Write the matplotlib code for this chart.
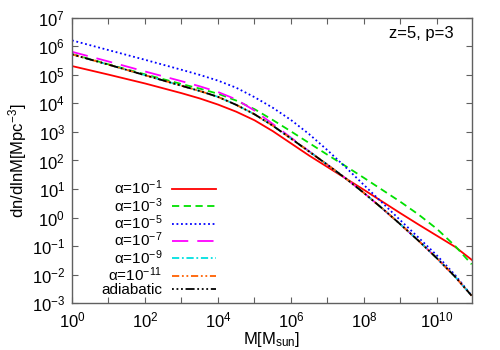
import matplotlib
matplotlib.use("Agg")
import matplotlib.pyplot as plt
import numpy as np

plt.rcParams['font.family'] = ['Liberation Sans', 'DejaVu Sans']
plt.rcParams['mathtext.default'] = 'regular'

# log10 of halo mass M [M_sun]
log_mass = [0, 1, 2, 3, 3.5, 4, 4.5, 5, 5.5, 6, 6.5, 7, 7.5, 8, 8.5, 9, 9.5, 10, 10.5, 10.95]

# log10 of dn/dlnM [Mpc^-3]
log_dn_a1 = [5.31, 5.01, 4.70, 4.36, 4.175, 3.96, 3.71, 3.41, 3.03, 2.60, 2.17, 1.77, 1.37, 0.97, 0.56, 0.15, -0.25, -0.64, -1.03, -1.48]
log_dn_a3 = [5.73, 5.37, 5.02, 4.68, 4.52, 4.34, 4.10, 3.80, 3.42, 3.02, 2.61, 2.20, 1.80, 1.39, 0.97, 0.55, 0.10, -0.40, -1.00, -1.64]
log_dn_a5 = [6.21, 5.87, 5.53, 5.18, 5.00, 4.80, 4.55, 4.22, 3.85, 3.42, 2.92, 2.36, 1.76, 1.14, 0.52, -0.10, -0.71, -1.33, -2.02, -2.74]
log_dn_a7 = [5.81, 5.47, 5.12, 4.78, 4.60, 4.40, 4.14, 3.75, 3.28, 2.80, 2.32, 1.85, 1.37, 0.86, 0.32, -0.24, -0.82, -1.43, -2.08, -2.74]
log_dn_a9 = [5.72, 5.36, 4.99, 4.62, 4.435, 4.23, 3.95, 3.62, 3.22, 2.77, 2.31, 1.85, 1.37, 0.86, 0.32, -0.24, -0.82, -1.43, -2.08, -2.74]
log_dn_a11 = [5.72, 5.36, 4.99, 4.62, 4.435, 4.23, 3.95, 3.62, 3.22, 2.77, 2.31, 1.85, 1.37, 0.86, 0.32, -0.24, -0.82, -1.43, -2.08, -2.74]
log_dn_adiab = [5.72, 5.36, 4.99, 4.62, 4.435, 4.23, 3.95, 3.62, 3.22, 2.77, 2.31, 1.85, 1.37, 0.86, 0.32, -0.24, -0.82, -1.43, -2.08, -2.74]

labels = [r'$\alpha$=10$^{-1}$', r'$\alpha$=10$^{-3}$', r'$\alpha$=10$^{-5}$', r'$\alpha$=10$^{-7}$',
          r'$\alpha$=10$^{-9}$', r'$\alpha$=10$^{-11}$', 'adiabatic']
series = [log_dn_a1, log_dn_a3, log_dn_a5, log_dn_a7, log_dn_a9, log_dn_a11, log_dn_adiab]
colors = ['#ff0000', '#00e000', '#0000ff', '#ff00ff', '#00e0e0', '#ff6000', '#000000']
styles = ['-', (0, (4, 2.5)), (0, (1, 1.5)), (0, (9, 5)), (0, (4, 1.5, 1, 1.5)),
          (0, (4, 1.5, 1, 1.5, 1, 1.5)), (0, (1, 1.5, 1, 1.5, 1, 1.5, 5, 1.5))]

fig = plt.figure(figsize=(5, 3.5), dpi=100)
ax = fig.add_axes([0.144, 0.134, 0.8, 0.815])

x = 10 ** np.array(log_mass)
for s, lab, c, ls in zip(series, labels, colors, styles):
    ax.plot(x, 10 ** np.array(s), color=c, ls=ls, lw=1.3, label=lab)

ax.set_xscale('log')
ax.set_yscale('log')
ax.set_xlim(1, 10 ** 10.96)
ax.set_ylim(1e-3, 1e7)

ax.set_xticks([10.0 ** k for k in range(0, 11)])
ax.set_xticklabels([('$10^{%d}$' % k) if k % 2 == 0 else '' for k in range(0, 11)])
ax.set_yticks([10.0 ** k for k in range(-3, 8)])
ax.set_yticklabels(['$10^{%d}$' % k for k in range(-3, 8)])
ax.minorticks_off()
ax.tick_params(which='both', direction='in', top=True, right=True, length=4,
               width=0.8, color='#606060', labelsize=12, pad=5)
for sp in ax.spines.values():
    sp.set_color('#606060')
    sp.set_linewidth(1.0)

ax.set_xlabel('M[M$_{sun}$]', fontsize=12, labelpad=0)
ax.set_ylabel('dn/dlnM[Mpc$^{-3}$]', fontsize=12, labelpad=2)

ax.text(0.955, 0.945, 'z=5, p=3', transform=ax.transAxes, ha='right', va='center', fontsize=12)

leg = ax.legend(loc='lower right', bbox_to_anchor=(0.375, 0.0), frameon=False, markerfirst=False,
                fontsize=11, handlelength=2.9, labelspacing=-0.08, handletextpad=0.6,
                borderaxespad=0.2, borderpad=0.2)

fig.savefig('out.png', dpi=100)
